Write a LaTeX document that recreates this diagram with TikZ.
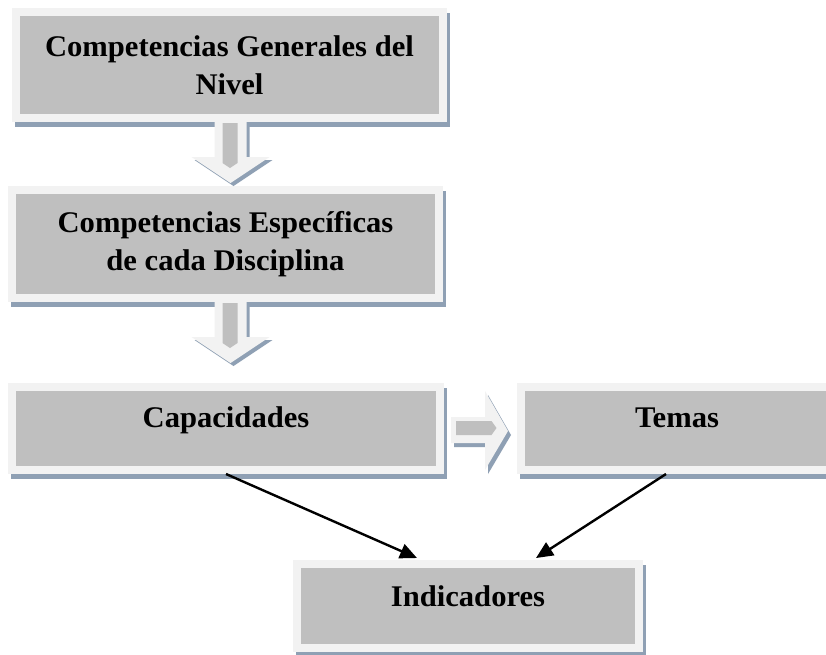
\documentclass[tikz,border=0pt]{standalone}
\usepackage{fontspec}
\newfontfamily\boxfont{Liberation Serif}[FakeStretch=1.02]
\usetikzlibrary{arrows.meta,backgrounds,calc}
\definecolor{boxgray}{HTML}{BFBFBF}
\definecolor{boxlight}{HTML}{F2F2F2}
\definecolor{boxshadow}{HTML}{8FA0B4}
\tikzset{
  box/.style={rectangle, fill=boxgray, draw=boxlight, line width=8pt, outer sep=4pt,
    inner sep=0pt, align=center, font=\boxfont\bfseries\fontsize{30}{38.5}\selectfont},
  oneline/.style={text height=20pt, text depth=23pt},
  link/.style={-{Triangle[length=17pt,width=15pt]}, line width=2.4pt, black},
  downarrow/.pic={
    \fill[boxshadow,shift={(3,3)}] (-16,-30.5) -- (16,-30.5) -- (16,4.5) -- (39,4.5) -- (0,30.5) -- (-39,4.5) -- (-16,4.5) -- cycle;
    \fill[boxlight] (-16,-30.5) -- (16,-30.5) -- (16,4.5) -- (39,4.5) -- (0,30.5) -- (-39,4.5) -- (-16,4.5) -- cycle;
    \fill[boxgray] (-8,-29.5) -- (7,-29.5) -- (7,10.5) -- (-0.5,15.5) -- (-8,10.5) -- cycle;
  },
  rightarrow/.pic={
    \fill[boxshadow,shift={(3,4)}] (-28.5,-13) -- (5.5,-13) -- (5.5,-39) -- (28.5,1) -- (5.5,40) -- (5.5,13) -- (-28.5,13) -- cycle;
    \fill[boxlight] (-28.5,-13) -- (5.5,-13) -- (5.5,-39) -- (28.5,1) -- (5.5,40) -- (5.5,13) -- (-28.5,13) -- cycle;
    \fill[boxgray] (-23.5,-9) -- (12,-9) -- (17,-2) -- (12,5) -- (-23.5,5) -- cycle;
  }
}
\begin{document}
\begin{tikzpicture}[x=1pt,y=-1pt]
\useasboundingbox (0,0) rectangle (826,654);
\node[box,minimum width=427pt,minimum height=106pt] (b1) at (229.5,65) {Competencias Generales del\\Nivel};
\node[box,minimum width=427pt,minimum height=108pt] (b2) at (225.5,244) {Competencias Específicas\\de cada Disciplina};
\node[box,oneline,minimum width=428pt,minimum height=83pt] (cap) at (226,428.5) {Capacidades};
\node[box,oneline,minimum width=312pt,minimum height=83pt] (tem) at (677,428.5) {Temas};
\node[box,text height=20pt,text depth=20pt,minimum width=342pt,minimum height=84pt] (ind) at (468,606) {Indicadores};
\begin{scope}[on background layer]
  \fill[white] (0,0) rectangle (826,654);
  \foreach \n in {b1,b2,cap,tem,ind}
    \fill[boxshadow] ([shift={(3,5)}]\n.north west) rectangle ([shift={(3,5)}]\n.south east);
\end{scope}
\path (b1.south) ++(1,30.5) pic {downarrow};
\path (b2.south) ++(5,30.5) pic {downarrow};
\path (cap.east) ++(35.5,1.5) pic {rightarrow};
\draw[link] (cap.south) -- ([xshift=-51pt,yshift=2pt]ind.north);
\draw[link] ([xshift=-11pt]tem.south) -- ([xshift=68pt,yshift=2pt]ind.north);
\end{tikzpicture}
\end{document}
